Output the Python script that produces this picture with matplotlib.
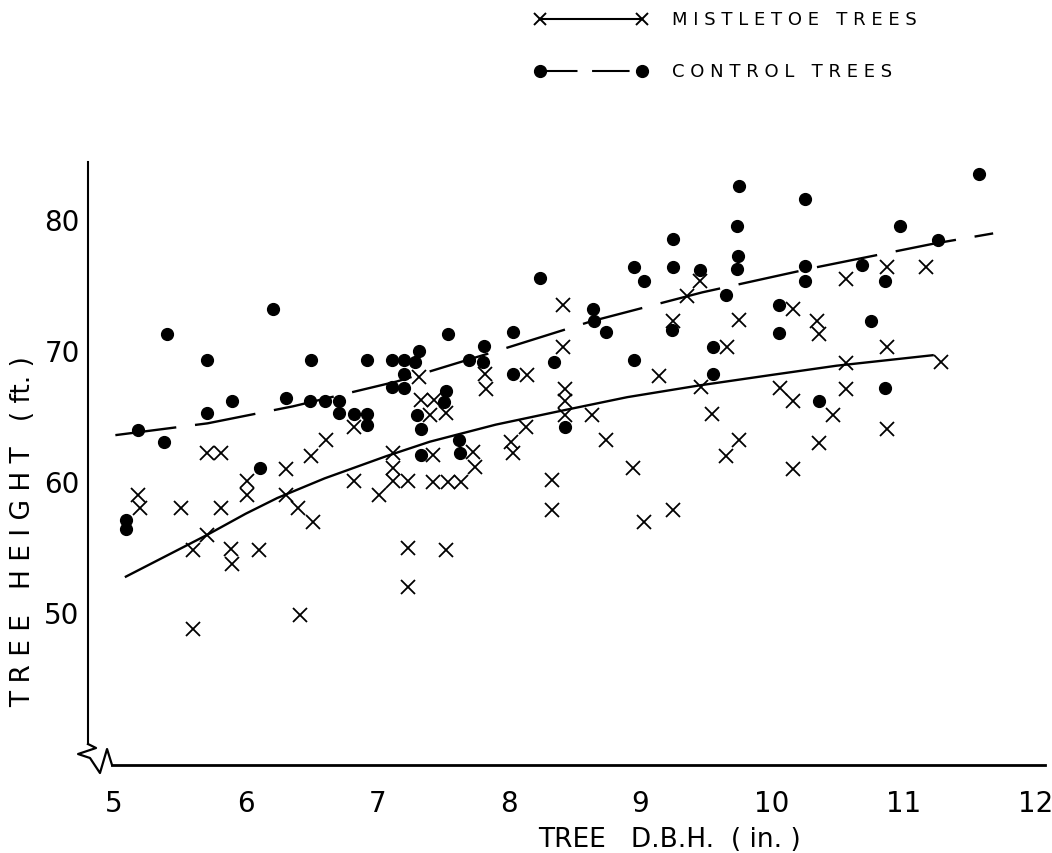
import numpy as np
import matplotlib.pyplot as plt
from matplotlib.lines import Line2D

# control trees (dots)
ctrl_dbh = [5.09, 5.09, 5.18, 5.38, 5.40, 5.71, 5.71, 5.90, 6.11, 6.21,
            6.31, 6.49, 6.50, 6.60, 6.71, 6.71, 6.82, 6.92, 6.92, 6.92,
            7.11, 7.11, 7.20, 7.20, 7.20, 7.29, 7.32, 7.30, 7.33, 7.33,
            7.51, 7.52, 7.54, 7.62, 7.63, 7.70, 7.80, 7.81, 8.03, 8.03,
            8.24, 8.34, 8.43, 8.64, 8.65, 8.74, 8.95, 8.95, 9.03, 9.24,
            9.25, 9.25, 9.45, 9.55, 9.55, 9.65, 9.73, 9.74, 9.73, 9.75,
            10.05, 10.05, 10.25, 10.25, 10.25, 10.36, 10.68, 10.75, 10.86, 10.86,
            10.97, 11.26, 11.57]
ctrl_ht = [57.0, 56.3, 63.9, 63.0, 71.2, 65.2, 69.2, 66.1, 61.0, 73.1,
           66.3, 66.1, 69.2, 66.1, 66.1, 65.2, 65.1, 69.2, 65.1, 64.3,
           69.2, 67.2, 68.2, 69.2, 67.1, 69.1, 69.9, 65.0, 64.0, 62.0,
           66.0, 66.9, 71.2, 63.1, 62.1, 69.2, 69.1, 70.3, 71.4, 68.2,
           75.5, 69.1, 64.1, 73.1, 72.2, 71.4, 76.3, 69.2, 75.3, 71.5,
           78.5, 76.3, 76.1, 70.2, 68.2, 74.2, 76.2, 77.2, 79.5, 82.5,
           73.4, 71.3, 81.5, 76.4, 75.3, 66.1, 76.5, 72.2, 75.3, 67.1,
           79.5, 78.4, 83.4]

# mistletoe trees (crosses)
mist_dbh = [7.32, 7.33, 6.82, 6.61, 6.50, 5.71, 5.81, 6.31, 7.12, 7.12,
            7.12, 7.23, 6.82, 6.01, 5.18, 6.01, 6.31, 7.01, 5.20, 5.51,
            5.81, 6.40, 6.51, 5.71, 5.60, 5.89, 6.10, 5.90, 7.23, 7.23,
            6.41, 5.60, 8.41, 9.45, 9.35, 9.25, 9.75, 8.41, 9.66, 7.82,
            8.14, 7.83, 9.14, 8.43, 8.43, 8.43, 7.43, 7.40, 7.52, 8.63,
            8.13, 9.46, 9.54, 8.02, 8.03, 8.74, 7.73, 7.74, 7.42, 9.75,
            9.65, 8.94, 7.42, 7.54, 7.64, 8.33, 8.33, 9.03, 9.25, 7.52,
            10.87, 11.17, 10.56, 10.16, 10.34, 10.36, 10.87, 10.56, 11.28, 10.06,
            10.16, 10.56, 10.46, 10.36, 10.87, 10.16]
mist_ht = [67.9, 66.2, 64.1, 63.1, 61.9, 62.1, 62.1, 60.9, 62.1, 61.0,
           60.0, 60.0, 60.0, 60.0, 58.9, 58.9, 58.9, 58.9, 57.9, 57.9,
           57.9, 57.9, 56.9, 55.9, 54.7, 54.8, 54.7, 53.7, 54.9, 51.9,
           49.8, 48.7, 73.4, 75.3, 74.1, 72.2, 72.3, 70.2, 70.2, 68.2,
           68.1, 67.0, 68.0, 67.0, 66.1, 65.0, 66.2, 65.0, 65.2, 65.0,
           64.1, 67.2, 65.1, 63.0, 62.1, 63.1, 62.2, 61.1, 62.0, 63.1,
           61.9, 61.0, 59.9, 59.9, 59.9, 60.1, 57.8, 56.9, 57.8, 54.7,
           76.3, 76.3, 75.4, 73.1, 72.2, 71.2, 70.2, 69.0, 69.1, 67.1,
           66.1, 67.0, 65.0, 62.9, 64.0, 60.9]

# fitted curves as drawn
mist_curve_x = [5.09, 5.40, 5.71, 6.00, 6.24, 6.60, 7.07, 7.40, 7.90, 8.37, 8.90, 9.45, 10.00, 10.49, 11.22]
mist_curve_y = [52.7, 54.3, 55.9, 57.5, 58.7, 60.2, 61.9, 63.0, 64.3, 65.3, 66.4, 67.3, 68.1, 68.8, 69.6]
ctrl_curve_x = [5.01, 5.71, 6.36, 7.15, 7.90, 8.63, 9.47, 10.33, 11.22, 11.68]
ctrl_curve_y = [63.5, 64.4, 65.7, 67.6, 69.9, 72.2, 74.4, 76.3, 78.1, 78.9]

x_ticks = [5, 6, 7, 8, 9, 10, 11, 12]
y_ticks = [50, 60, 70, 80]

plt.rcParams['font.family'] = ['DejaVu Sans']

fig = plt.figure(figsize=(10.52, 8.54), dpi=100)
ax = fig.add_axes([88/1052, 1 - 766/854, 957/1052, 603/854])

ax.plot(mist_curve_x, mist_curve_y, color='black', lw=1.7)
ax.plot(ctrl_curve_x, ctrl_curve_y, color='black', lw=1.7, dashes=(26, 8))

ax.plot(mist_dbh, mist_ht, 'x', color='black', ms=9.5, mew=1.3)
ax.plot(ctrl_dbh, ctrl_ht, 'o', color='black', ms=8.5)

ax.set_xlim(4.802, 12.074)
ax.set_ylim(38.32, 84.35)

for s in ['top', 'right']:
    ax.spines[s].set_visible(False)
ax.spines['left'].set_bounds(39.92, 84.35)
ax.spines['bottom'].set_bounds(4.985, 12.074)
ax.spines['left'].set_linewidth(1.5)
ax.spines['bottom'].set_linewidth(2.0)

# axis break zigzag in the corner
zx = [0, 0.0084, -0.0104, 0.0021, 0.0125, 0.0199, 0.0251]
zy = [0.0348, 0.0282, 0.0182, 0.0116, -0.0133, 0.0265, 0]
ax.plot(zx, zy, color='black', lw=1.6, transform=ax.transAxes, clip_on=False)

ax.set_xticks(x_ticks)
ax.set_yticks(y_ticks)
ax.tick_params(length=0, labelsize=20)
ax.tick_params(axis='x', pad=17)
ax.tick_params(axis='y', pad=6)

fig.text(670/1052, 1 - 840/854, 'TREE   D.B.H.  ( in. )', fontsize=19,
         ha='center', va='center')
fig.text(23/1052, 1 - 532/854, 'T R E E   H E I G H T   ( ft. )', fontsize=19,
         rotation=90, ha='center', va='center')

# legend drawn by hand
y1 = 1 - 20/854
y2 = 1 - 72/854
fig.add_artist(Line2D([540/1052, 642/1052], [y1, y1], color='black', lw=1.5,
                      marker='x', ms=9, mew=1.4))
fig.add_artist(Line2D([540/1052, 642/1052], [y2, y2], color='black', lw=1.5,
                      dashes=(18, 7)))
fig.add_artist(Line2D([540/1052, 642/1052], [y2, y2], ls='none',
                      marker='o', color='black', ms=8.5))
fig.text(672/1052, y1, 'M I S T L E T O E   T R E E S', fontsize=13, va='center')
fig.text(672/1052, y2, 'C O N T R O L   T R E E S', fontsize=13, va='center')

fig.savefig('out.png', dpi=100)
